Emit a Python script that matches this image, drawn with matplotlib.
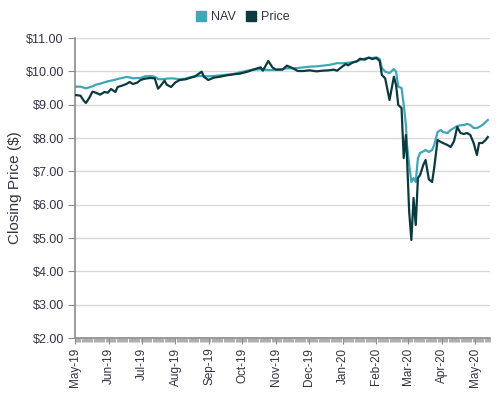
import matplotlib
matplotlib.use("Agg")
import matplotlib.pyplot as plt
import matplotlib.dates as mdates
import pandas as pd
import numpy as np

dates = [
    "2019-05-01", "2019-05-06", "2019-05-09", "2019-05-11", "2019-05-14", "2019-05-17",
    "2019-05-20", "2019-05-24", "2019-05-28", "2019-05-31", "2019-06-03", "2019-06-07",
    "2019-06-09", "2019-06-13", "2019-06-17", "2019-06-20", "2019-06-23", "2019-06-27",
    "2019-06-30", "2019-07-04", "2019-07-09", "2019-07-13", "2019-07-16", "2019-07-18",
    "2019-07-22", "2019-07-24", "2019-07-28", "2019-08-01", "2019-08-05", "2019-08-10",
    "2019-08-14", "2019-08-19", "2019-08-25", "2019-08-27", "2019-08-31", "2019-09-05",
    "2019-09-11", "2019-09-17", "2019-09-23", "2019-09-29", "2019-10-06", "2019-10-11",
    "2019-10-18", "2019-10-20", "2019-10-25", "2019-10-29", "2019-11-01", "2019-11-07",
    "2019-11-11", "2019-11-16", "2019-11-21", "2019-11-26", "2019-12-02", "2019-12-08",
    "2019-12-14", "2019-12-19", "2019-12-24", "2019-12-27", "2019-12-30", "2020-01-04",
    "2020-01-06", "2020-01-10", "2020-01-14", "2020-01-17", "2020-01-21", "2020-01-25",
    "2020-01-28", "2020-02-01", "2020-02-04", "2020-02-06", "2020-02-09", "2020-02-13",
    "2020-02-17", "2020-02-19", "2020-02-21", "2020-02-24", "2020-02-26", "2020-02-28",
    "2020-02-29", "2020-03-02", "2020-03-04", "2020-03-06", "2020-03-08", "2020-03-10",
    "2020-03-12", "2020-03-15", "2020-03-17", "2020-03-20", "2020-03-23", "2020-03-25",
    "2020-03-28", "2020-03-31", "2020-04-02", "2020-04-06", "2020-04-09", "2020-04-12",
    "2020-04-15", "2020-04-18", "2020-04-21", "2020-04-24", "2020-04-27", "2020-04-30",
    "2020-05-03", "2020-05-05", "2020-05-08", "2020-05-11", "2020-05-13",
]

nav = [
    9.54, 9.54, 9.51, 9.49, 9.52, 9.55,
    9.60, 9.63, 9.67, 9.70, 9.72, 9.75,
    9.77, 9.80, 9.83, 9.82, 9.79, 9.80,
    9.80, 9.85, 9.86, 9.84, 9.77, 9.76,
    9.77, 9.78, 9.79, 9.78, 9.76, 9.78,
    9.82, 9.85, 9.86, 9.85, 9.85, 9.86,
    9.88, 9.90, 9.92, 9.97, 10.02, 10.05,
    10.06, 10.05, 10.04, 10.04, 10.05, 10.07,
    10.09, 10.09, 10.10, 10.12, 10.14, 10.15,
    10.17, 10.19, 10.22, 10.25, 10.24, 10.25,
    10.26, 10.27, 10.30, 10.34, 10.38, 10.41,
    10.40, 10.42, 10.37, 10.10, 9.99, 9.95,
    10.07, 9.99, 9.54, 9.50, 9.00, 8.39,
    7.79, 7.19, 6.68, 6.80, 6.68, 7.40,
    7.55, 7.60, 7.64, 7.58, 7.64, 7.80,
    8.18, 8.24, 8.18, 8.15, 8.24, 8.30,
    8.36, 8.38, 8.39, 8.42, 8.39, 8.30,
    8.30, 8.33, 8.39, 8.48, 8.54,
]

price = [
    9.29, 9.27, 9.12, 9.05, 9.20, 9.39,
    9.36, 9.30, 9.38, 9.36, 9.47, 9.38,
    9.53, 9.57, 9.62, 9.68, 9.62, 9.66,
    9.74, 9.78, 9.80, 9.79, 9.48, 9.55,
    9.72, 9.60, 9.53, 9.67, 9.74, 9.76,
    9.80, 9.85, 9.99, 9.84, 9.74, 9.81,
    9.84, 9.88, 9.91, 9.93, 9.99, 10.05,
    10.12, 10.02, 10.31, 10.11, 10.05, 10.05,
    10.17, 10.10, 10.01, 10.01, 10.03, 10.00,
    10.02, 10.03, 10.05, 10.02, 10.10, 10.22,
    10.18, 10.26, 10.30, 10.38, 10.35, 10.41,
    10.37, 10.40, 10.31, 9.89, 9.79, 9.14,
    9.84, 9.59, 8.99, 8.90, 7.40, 8.09,
    7.40, 5.78, 4.94, 6.20, 5.39, 6.80,
    6.89, 7.20, 7.34, 6.76, 6.68, 7.13,
    7.94, 7.88, 7.85, 7.79, 7.73, 7.90,
    8.33, 8.15, 8.12, 8.15, 8.09, 7.85,
    7.49, 7.85, 7.85, 7.94, 8.03,
]

yticks = [2, 3, 4, 5, 6, 7, 8, 9, 10, 11]

x = pd.to_datetime(dates)

plt.rcParams['font.family'] = ['Liberation Sans', 'DejaVu Sans']
fig = plt.figure(figsize=(4.99, 3.95), dpi=100)
ax = fig.add_axes([75/499, 1-338/395, (490-75)/499, 300/395])

nav_color = '#3fa7b5'
price_color = '#0b3a40'
ax.plot(x, nav, color=nav_color, lw=1.6, label='NAV', zorder=3)
ax.plot(x, price, color=price_color, lw=1.6, label='Price', zorder=4)

ax.set_ylim(2, 11)
ax.set_yticks(yticks)
ax.set_yticklabels([f"${v:.2f}" for v in yticks])
ax.set_xlim(pd.Timestamp("2019-05-01"), pd.Timestamp("2020-05-15"))

ax.xaxis.set_major_locator(mdates.MonthLocator())
ax.xaxis.set_major_formatter(mdates.DateFormatter('%b-%y'))
ax.xaxis.set_minor_locator(mdates.DayLocator(interval=1))
for lbl in ax.get_xticklabels():
    lbl.set_rotation(90)

ax.grid(axis='y', color='#d9d9d9', lw=1, zorder=0)
ax.set_axisbelow(True)
for s in ['top', 'right']:
    ax.spines[s].set_visible(False)
for s in ['left', 'bottom']:
    ax.spines[s].set_color('#8c8c8c')
    ax.spines[s].set_linewidth(1.2)

ax.tick_params(axis='y', length=5, color='#8c8c8c', labelsize=9, labelcolor='#333344', pad=3)
ax.tick_params(axis='x', which='major', length=4, color='#8c8c8c', labelsize=8.5, labelcolor='#333344', pad=3)
ax.tick_params(axis='x', which='minor', length=3, color='#a0a0a0', width=0.6)

ax.set_ylabel('Closing Price ($)', fontsize=11, color='#333344')
ax.yaxis.set_label_coords((22 - 75) / 415, 0.5)

leg = fig.legend(handles=ax.get_lines(), labels=['NAV', 'Price'], loc='upper center',
                 bbox_to_anchor=(0.487, 1.0), ncol=2, frameon=False,
                 handlelength=0.7, handleheight=0.7, handletextpad=0.4, columnspacing=0.9,
                 fontsize=9)
for h in leg.legend_handles:
    h.set_linewidth(0)
    h.set_marker('s')
    h.set_markersize(7)
for h, c in zip(leg.legend_handles, [nav_color, price_color]):
    h.set_markerfacecolor(c)
    h.set_markeredgecolor(c)
for t in leg.get_texts():
    t.set_color('#333344')

fig.savefig('out.png', dpi=100)
